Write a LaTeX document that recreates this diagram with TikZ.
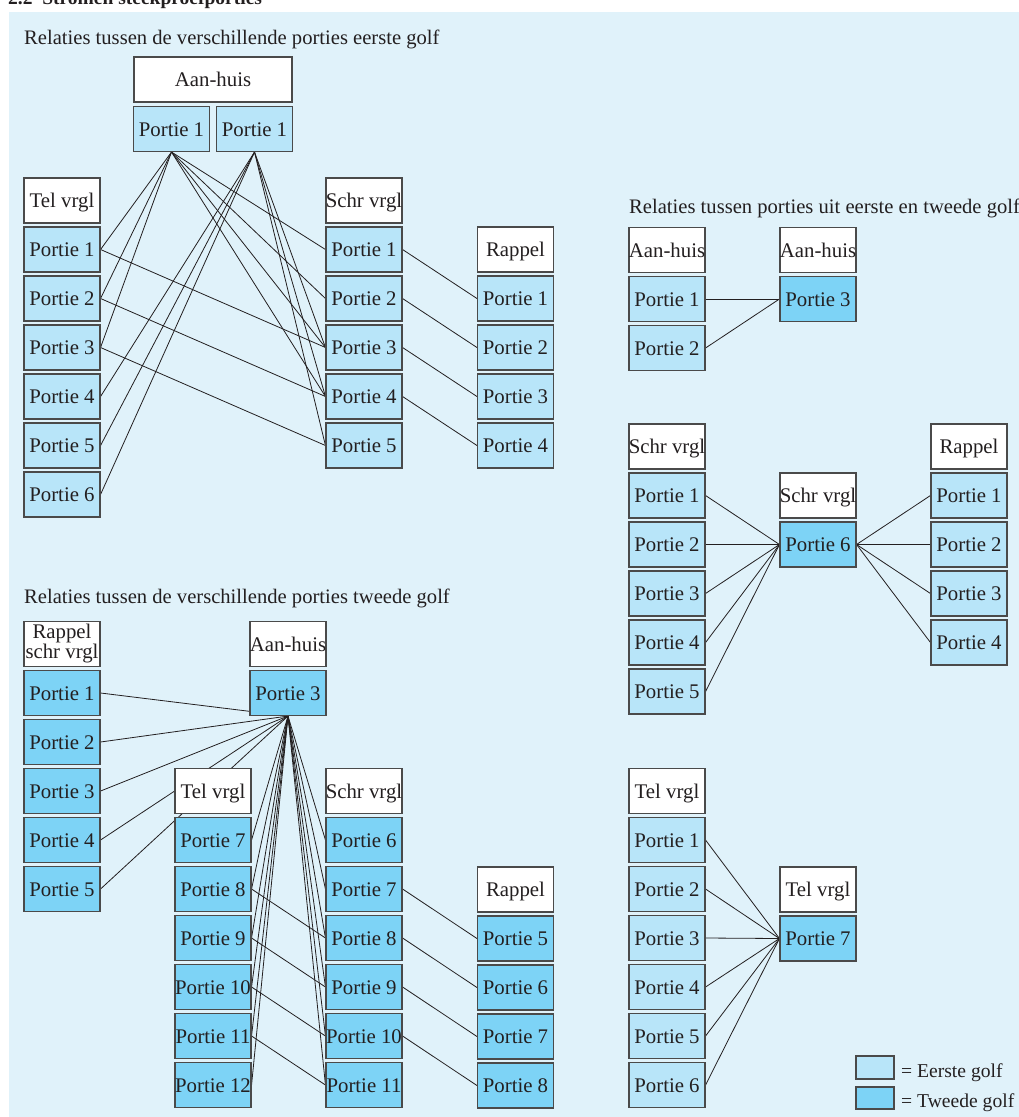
\documentclass[tikz,border=0pt]{standalone}
\usepackage{fontspec}
\setmainfont{Liberation Serif}
\definecolor{panel}{HTML}{E0F2FA}
\definecolor{light}{HTML}{B8E5F9}
\definecolor{dark}{HTML}{7DD3F6}
\definecolor{bordc}{HTML}{4A4A4A}
\definecolor{ink}{HTML}{231F20}
\newcommand\mkc[1]{\makebox[0pt]{#1}}
\pgfdeclarelayer{bgl}
\pgfdeclarelayer{edl}
\pgfsetlayers{bgl,edl,main}
\tikzset{
  cellbase/.style={draw=bordc, line width=1.1pt, minimum width=76pt, minimum height=45pt,
    inner sep=0pt, text=ink, font=\fontsize{20.8}{22}\selectfont},
  cell/.style={cellbase, text height=18.5pt, text depth=4pt},
  hdr/.style={cell, fill=white},
  pa/.style={cell, fill=light},
  pb/.style={cell, fill=dark},
  con/.style={draw=ink, line width=0.8pt},
  ttl/.style={anchor=base west, inner sep=0pt, text=ink, font=\fontsize{20.6}{22}\selectfont},
}
\begin{document}
\begin{tikzpicture}[x=1pt,y=-1pt]
\useasboundingbox (0,0) rectangle (1019,1117);
\begin{pgfonlayer}{bgl}
\fill[panel] (9,12) rectangle (1019,1117);
\end{pgfonlayer}
\node[anchor=base west, inner sep=0pt, text=ink, font=\bfseries\fontsize{19.5}{20}\selectfont] (head) at (8,4) {2.2\ \ Stromen steekproefporties};

% ---------- Section 1: eerste golf ----------
\node[ttl] (ti1) at (24,44) {Relaties tussen de verschillende porties eerste golf};
\node[hdr, minimum width=158pt] (ah) at (213,79.5) {\mkc{Aan-huis}};
\node[pa] (ahA) at (171.5,129) {\mkc{Portie 1}};
\node[pa] (ahB) at (254.5,129) {\mkc{Portie 1}};
\node[hdr] (t0) at (62,200.5) {\mkc{Tel vrgl}};
\foreach \k in {1,...,6} \node[pa] (t\k) at (62,{200.5+49*\k}) {\mkc{Portie \k}};
\node[hdr] (s0) at (364,200.5) {\mkc{Schr vrgl}};
\foreach \k in {1,...,5} \node[pa] (s\k) at (364,{200.5+49*\k}) {\mkc{Portie \k}};
\node[hdr] (r0) at (515.5,249.5) {\mkc{Rappel}};
\foreach \k in {1,...,4} \node[pa] (r\k) at (515.5,{249.5+49*\k}) {\mkc{Portie \k}};

% ---------- Section 2: eerste en tweede golf ----------
\node[ttl] (ti2) at (629,213) {Relaties tussen porties uit eerste en tweede golf};
\node[hdr] (ba0) at (667,250) {\mkc{Aan-huis}};
\node[pa] (ba1) at (667,299) {\mkc{Portie 1}};
\node[pa] (ba2) at (667,348) {\mkc{Portie 2}};
\node[hdr] (bb0) at (818,250) {\mkc{Aan-huis}};
\node[pb] (bb3) at (818,299) {\mkc{Portie 3}};

% ---------- Section 3 ----------
\node[hdr] (ca0) at (667,446.5) {\mkc{Schr vrgl}};
\foreach \k in {1,...,5} \node[pa] (ca\k) at (667,{446.5+49*\k}) {\mkc{Portie \k}};
\node[hdr] (cb0) at (818,495.5) {\mkc{Schr vrgl}};
\node[pb] (cb6) at (818,544.5) {\mkc{Portie 6}};
\node[hdr] (cc0) at (969,446.5) {\mkc{Rappel}};
\foreach \k in {1,...,4} \node[pa] (cc\k) at (969,{446.5+49*\k}) {\mkc{Portie \k}};

% ---------- Section 4 ----------
\node[hdr] (da0) at (667,791) {\mkc{Tel vrgl}};
\foreach \k in {1,...,6} \node[pa] (da\k) at (667,{791+49*\k}) {\mkc{Portie \k}};
\node[hdr] (db0) at (818,889.5) {\mkc{Tel vrgl}};
\node[pb] (db7) at (818,938.5) {\mkc{Portie 7}};

% legend
\node[draw=bordc, line width=1.1pt, fill=light, minimum width=38pt, minimum height=23pt, inner sep=0pt] (lg1) at (875,1067.5) {};
\node[draw=bordc, line width=1.1pt, fill=dark, minimum width=38pt, minimum height=22pt, inner sep=0pt] (lg2) at (875,1098) {};
\node[ttl, font=\fontsize{19.6}{20}\selectfont] (lt1) at (901,1077) {= Eerste golf};
\node[ttl, font=\fontsize{19.6}{20}\selectfont] (lt2) at (901,1107) {= Tweede golf};

% ---------- Section 5: tweede golf ----------
\node[ttl] (ti3) at (24,603) {Relaties tussen de verschillende porties tweede golf};
\node[cellbase, fill=white, align=center] (e0) at (62,644) {Rappel\\[-2pt]schr vrgl};
\foreach \k in {1,...,5} \node[pb] (e\k) at (62,{644+49*\k}) {\mkc{Portie \k}};
\node[hdr] (f0) at (288,644) {\mkc{Aan-huis}};
\node[pb] (f3) at (288,693) {\mkc{Portie 3}};
\node[hdr] (g0) at (213,791) {\mkc{Tel vrgl}};
\foreach \k in {7,...,12} \node[pb] (g\k) at (213,{791+49*(\k-6)}) {\mkc{Portie \k}};
\node[hdr] (h0) at (364,791) {\mkc{Schr vrgl}};
\foreach \k in {6,...,11} \node[pb] (h\k) at (364,{791+49*(\k-5)}) {\mkc{Portie \k}};
\node[hdr] (q0) at (515.5,889.5) {\mkc{Rappel}};
\foreach \k in {5,...,8} \node[pb] (q\k) at (515.5,{889.5+49*(\k-4)}) {\mkc{Portie \k}};

% ---------- connectors ----------
\begin{pgfonlayer}{edl}
\foreach \k in {1,2,3} \draw[con] (ahA.south) -- (t\k.east);
\foreach \k in {4,5,6} \draw[con] (ahB.south) -- (t\k.east);
\foreach \k in {1,2,3,4} \draw[con] (ahA.south) -- (s\k.west);
\foreach \k in {3,4,5} \draw[con] (ahB.south) -- (s\k.west);
\draw[con] (t1.east) -- (s3.west);
\draw[con] (t2.east) -- (s4.west);
\draw[con] (t3.east) -- (s5.west);
\foreach \k in {1,...,4} \draw[con] (s\k.east) -- (r\k.west);

\draw[con] (ba1.east) -- (bb3.west);
\draw[con] (ba2.east) -- (bb3.west);

\foreach \k in {1,...,5} \draw[con] (ca\k.east) -- (cb6.west);
\foreach \k in {1,...,4} \draw[con] (cb6.east) -- (cc\k.west);

\foreach \k in {1,...,6} \draw[con] (da\k.east) -- (db7.west);

\foreach \k in {1,...,5} \draw[con] (f3.south) -- (e\k.east);
\foreach \k in {7,...,12} \draw[con] (f3.south) -- (g\k.east);
\foreach \k in {6,...,11} \draw[con] (f3.south) -- (h\k.west);
\foreach \k in {8,...,11} \draw[con] (g\k.east) -- (h\k.west);
\draw[con] (h7.east) -- (q5.west);
\draw[con] (h8.east) -- (q6.west);
\draw[con] (h9.east) -- (q7.west);
\draw[con] (h10.east) -- (q8.west);
\end{pgfonlayer}
\end{tikzpicture}
\end{document}
